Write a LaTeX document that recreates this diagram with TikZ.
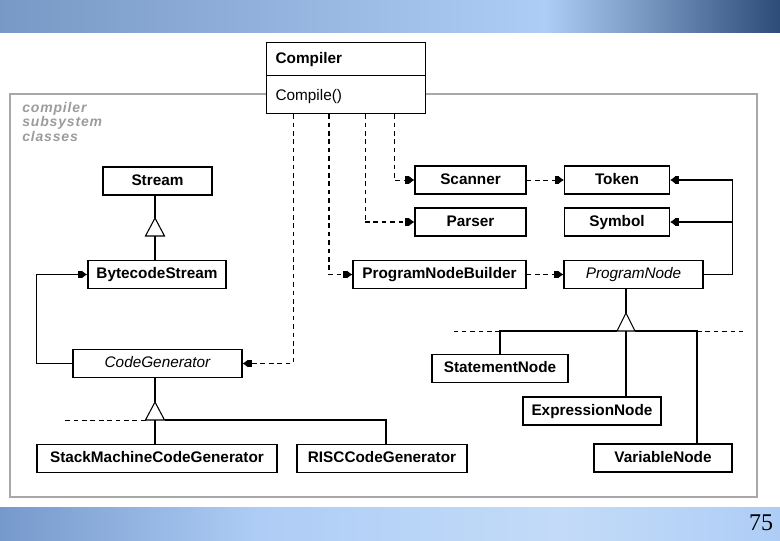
\documentclass[tikz,border=0pt]{standalone}
\usepackage{fontspec}
\setmainfont{Liberation Sans}
\newfontfamily\slidefont{Liberation Serif}
\usepackage{tikz}
\usetikzlibrary{arrows.meta,positioning,calc}
\definecolor{bnlight}{HTML}{AECDF6}
\definecolor{bnmid}{HTML}{7898C5}
\definecolor{bndark}{HTML}{2D4C78}
\definecolor{bnlow}{HTML}{7699CB}
\definecolor{bnpale}{HTML}{C3DBF8}
\definecolor{framegray}{HTML}{A8A8A8}
\definecolor{labelgray}{HTML}{9C9C9C}

\begin{document}
\begin{tikzpicture}[
  x=0.75pt,y=-0.75pt,
  font=\fontsize{11.5}{13}\selectfont\bfseries,
  cls/.style={draw=black,line width=0.9pt,fill=white,minimum height=21pt,inner sep=2pt,
              text height=8.5pt,text depth=2.5pt},
  abs/.style={cls,font=\fontsize{11.5}{13}\selectfont\itshape},
  part/.style={draw=black,line width=0.9pt,fill=white,anchor=north west,inner xsep=6.75pt,
               text width=105.75pt,align=left,text height=8.5pt,text depth=2.5pt},
  link/.style={line width=1pt,draw=black},
  blob/.style={-{Square[length=3pt,width=5.5pt]Latex[length=4pt,width=6pt]}},
  dep/.style={line width=0.7pt,dash pattern=on 3.5pt off 2.8pt},
  depx/.style={line width=1.1pt,dash pattern=on 3.5pt off 2.8pt},
  gen/.style={line width=0.8pt,draw=black,fill=white},
  frame/.style={draw=framegray,line width=1.5pt},
  sublabel/.style={font=\fontsize{10.5}{10.8}\selectfont\bfseries\itshape\addfontfeature{LetterSpace=6},
                   text=labelgray,align=left,anchor=north west,inner sep=0pt},
]

% slide bands
\useasboundingbox (0,0) rectangle (780,540);
\shade[left color=bnmid,right color=bnlight] (0,0) rectangle (545,32);
\shade[left color=bnlight,right color=bndark] (545,0) rectangle (780,32);
\shade[left color=bnlow,right color=bnlight] (0,507) rectangle (260,540);
\shade[left color=bnlight,right color=bnpale] (260,507) rectangle (560,540);
\shade[left color=bnpale,right color=bnlight] (560,507) rectangle (780,540);
\node[font=\slidefont\fontsize{18}{20}\selectfont] (pageno) at (761,523) {75};

% subsystem frame
\draw[frame] (10,94) rectangle (757,497);
\node[sublabel] (sublbl) at (22,102) {compiler\\subsystem\\classes};

% facade
\node[part,minimum height=24.75pt] (compiler) at (266,42) {Compiler};
\node[part,minimum height=28.5pt,font=\fontsize{11.5}{13}\selectfont,text depth=0pt] (compilefn) at (266,75) {Compile()};

% subsystem classes
\node[cls,minimum width=81.75pt] (stream) at (157.5,181) {Stream};
\node[cls,minimum width=103.5pt,line width=1.3pt] (bstream) at (157,274.5) {BytecodeStream};
\node[abs,minimum width=126.75pt] (codegen) at (157.5,363.5) {CodeGenerator};
\node[cls,minimum width=180pt] (stackgen) at (157,458.5) {StackMachineCodeGenerator};
\node[cls,minimum width=127.5pt] (riscgen) at (382,458.5) {RISCCodeGenerator};

\node[cls,minimum width=83.25pt] (scanner) at (470.5,180) {Scanner};
\node[cls,minimum width=83.25pt] (parser) at (470.5,222) {Parser};
\node[cls,minimum width=129.75pt] (pnbuilder) at (439.5,274.5) {ProgramNodeBuilder};
\node[cls,minimum width=78.75pt] (token) at (617,180) {Token};
\node[cls,minimum width=78.75pt] (symbol) at (617,222) {Symbol};
\node[abs,minimum width=104.25pt] (pnode) at (633.5,274.5) {ProgramNode};

\node[cls,minimum width=102pt] (stmt) at (500,368.5) {StatementNode};
\node[cls,minimum width=103.5pt] (expr) at (592,411) {ExpressionNode};
\node[cls,minimum width=103.5pt] (var) at (663,458) {VariableNode};

% facade uses
\coordinate (d1) at ($(compilefn.south west)+(27,0)$);
\coordinate (d2) at ($(compilefn.south west)+(63,0)$);
\coordinate (d3) at ($(compilefn.south west)+(99,0)$);
\coordinate (d4) at ($(compilefn.south west)+(128,0)$);
\draw[dep,blob] (d1) |- (codegen.east);
\draw[depx,blob] (d2) |- (pnbuilder.west);
\draw[dep] (d3) -- (d3 |- parser.west);
\draw[depx,blob] (d3 |- parser.west) -- (parser.west);
\draw[dep,blob] (d4) |- (scanner.west);

\draw[dep,blob] (scanner) -- (token);
\draw[depx,blob] (pnbuilder) -- (pnode);

% associations
\draw[link,blob] (codegen.west) -- ++(-36,0) |- (bstream.west);
\draw[link,blob] (pnode.east) -- ++(29,0) |- (token.east);
\draw[link,blob] (pnode.east) -- ++(29,0) |- (symbol.east);

% inheritance: streams
\coordinate (g1) at (155,218);
\coordinate (g1b) at (155,236);
\draw[link] (g1 |- stream.south) -- (g1);
\draw[gen] (g1) -- ++(-9.5,18) -- ++(19,0) -- cycle;
\draw[link] (g1b) -- (g1b |- bstream.north);

% inheritance: code generators
\coordinate (g2) at (155,402);
\coordinate (g2b) at (155,420);
\coordinate (r2) at (386,420);
\draw[link] (g2 |- codegen.south) -- (g2);
\draw[gen] (g2) -- ++(-9.5,18) -- ++(19,0) -- cycle;
\draw[link] (g2b) -- (g2b |- stackgen.north);
\draw[link] ($(g2b)+(9.5,0)$) -- (r2) -- (r2 |- riscgen.north);
\draw[dep] ($(g2b)+(-9.5,0)$) -- ++(-83,0);

% inheritance: program nodes
\coordinate (g3) at (626,313);
\coordinate (g3b) at (626,331);
\coordinate (v3) at (697,331);
\draw[link] (g3 |- pnode.south) -- (g3);
\draw[gen] (g3) -- ++(-9,18) -- ++(18,0) -- cycle;
\draw[link] (stmt.north) |- ($(g3b)+(-9,0)$);
\draw[link] ($(g3b)+(9,0)$) -- (v3) -- (v3 |- var.north);
\draw[link] (g3b) -- (g3b |- expr.north);
\draw[dep] (stmt.north |- g3b) -- ++(-46,0);
\draw[dep] (v3) -- ++(46,0);

\end{tikzpicture}
\end{document}
